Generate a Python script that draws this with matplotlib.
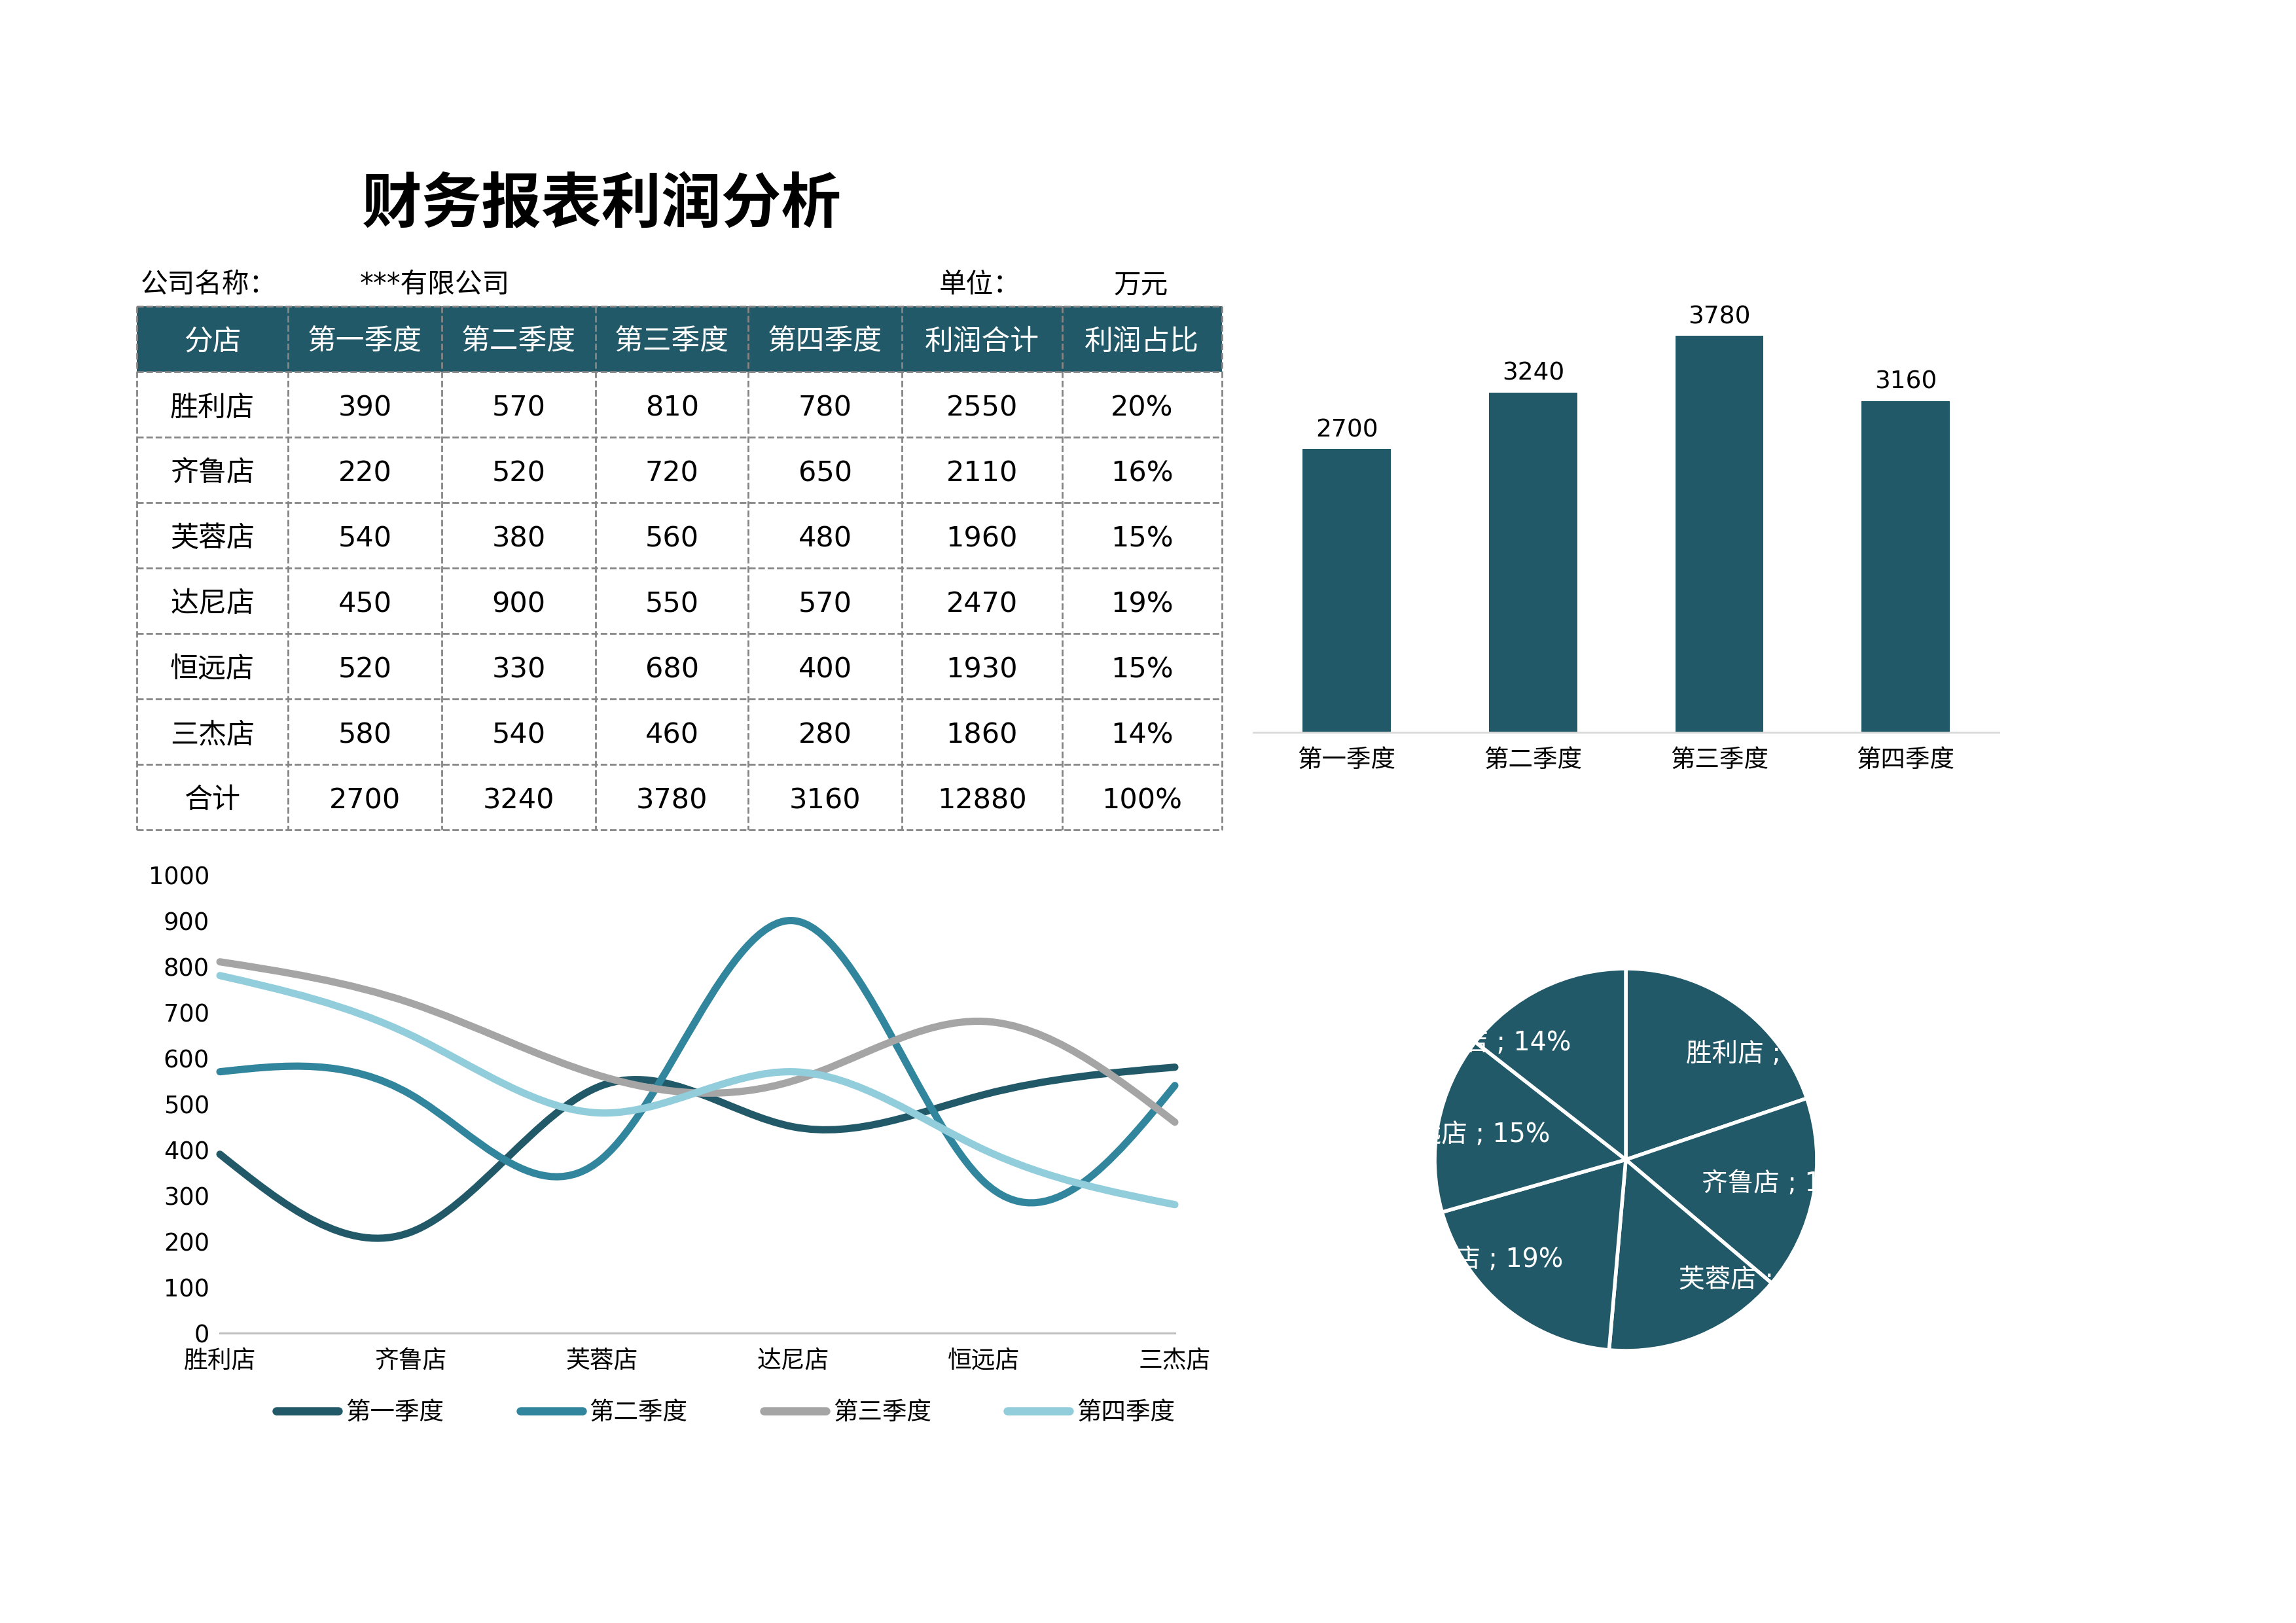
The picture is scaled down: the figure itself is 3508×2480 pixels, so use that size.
import numpy as np
import matplotlib.pyplot as plt
from matplotlib.path import Path
from matplotlib.patches import PathPatch, Rectangle
from matplotlib.lines import Line2D

plt.rcParams['font.family'] = ['DejaVu Sans', 'Noto Sans CJK SC']

stores = ['胜利店', '齐鲁店', '芙蓉店', '达尼店', '恒远店', '三杰店']
quarters = ['第一季度', '第二季度', '第三季度', '第四季度']
q1 = [390, 220, 540, 450, 520, 580]
q2 = [570, 520, 380, 900, 330, 540]
q3 = [810, 720, 560, 550, 680, 460]
q4 = [780, 650, 480, 570, 400, 280]
store_totals = [2550, 2110, 1960, 2470, 1930, 1860]
store_shares = ['20%', '16%', '15%', '19%', '15%', '14%']
quarter_totals = [2700, 3240, 3780, 3160]
grand_total = 12880
grand_share = '100%'
table_header = ['分店'] + quarters + ['利润合计', '利润占比']

teal = '#215968'
line_colors = ['#215968', '#31859C', '#A5A5A5', '#92CDDC']

fig = plt.figure(figsize=(35.08, 24.8), dpi=100)

# title and header info
fig.text(0.262, 0.8735, '财务报表利润分析', fontsize=66, fontweight='bold',
         ha='center', va='center', family=['Noto Sans CJK SC'])
fig.text(0.0613, 0.8246, '公司名称：', fontsize=30, ha='left', va='center')
fig.text(0.1568, 0.8246, '***有限公司', fontsize=30, ha='left', va='center')
fig.text(0.4091, 0.8246, '单位：', fontsize=30, ha='left', va='center')
fig.text(0.4851, 0.8246, '万元', fontsize=30, ha='left', va='center')

# ---- table ----
col_w = [103, 105, 105, 104, 105, 109, 109]
edges = np.concatenate([[0], np.cumsum(col_w)])
rows = [[s, a, b, c, d, t, p] for s, a, b, c, d, t, p in
        zip(stores, q1, q2, q3, q4, store_totals, store_shares)]
rows.append(['合计'] + quarter_totals + [grand_total, grand_share])
n_rows = len(rows) + 1

ax_t = fig.add_axes([0.05966, 0.48859, 0.47246, 0.32258])
ax_t.set_xlim(0, edges[-1])
ax_t.set_ylim(n_rows, 0)
ax_t.axis('off')
ax_t.add_patch(Rectangle((0, 0), edges[-1], 1, color=teal, lw=0))
dash = (0, (3.6, 1.5))
ax_t.hlines(np.arange(n_rows + 1), 0, edges[-1], colors='#858585', lw=2,
            linestyles=dash, clip_on=False)
ax_t.vlines(edges, 0, n_rows, colors='#858585', lw=2, linestyles=dash, clip_on=False)
for j, h in enumerate(table_header):
    ax_t.text((edges[j] + edges[j + 1]) / 2, 0.54, h, color='white', fontsize=31.5,
              ha='center', va='center')
for i, r in enumerate(rows):
    for j, v in enumerate(r):
        ax_t.text((edges[j] + edges[j + 1]) / 2, i + 1.55, str(v), color='black',
                  fontsize=31, ha='center', va='center')

# ---- bar chart ----
ax_b = fig.add_axes([0.54598, 0.54863, 0.32463, 0.27155])
bars = ax_b.bar(range(len(quarters)), quarter_totals, width=0.473, color=teal)
ax_b.bar_label(bars, padding=8, fontsize=27)
ax_b.set_xlim(-0.5, len(quarters) - 0.5)
ax_b.set_ylim(0, 4200)
ax_b.set_xticks(range(len(quarters)))
ax_b.set_xticklabels(quarters, fontsize=27)
ax_b.set_yticks([])
ax_b.tick_params(axis='x', length=0, pad=18)
for s in ['top', 'left', 'right']:
    ax_b.spines[s].set_visible(False)
ax_b.spines['bottom'].set_color('#D9D9D9')
ax_b.spines['bottom'].set_linewidth(2)


# ---- smoothed line chart (natural cubic spline drawn as bezier segments) ----
def spline_path(xs, ys):
    y = np.asarray(ys, dtype=float)
    n = len(y)
    A = np.zeros((n, n))
    rhs = np.zeros(n)
    A[0, 0] = A[-1, -1] = 1
    for i in range(1, n - 1):
        A[i, i - 1:i + 2] = [1, 4, 1]
        rhs[i] = 6 * (y[i + 1] - 2 * y[i] + y[i - 1])
    M = np.linalg.solve(A, rhs)
    verts = [(xs[0], y[0])]
    codes = [Path.MOVETO]
    for i in range(n - 1):
        d = y[i + 1] - y[i]
        s0 = d - (2 * M[i] + M[i + 1]) / 6
        s1 = d + (M[i] + 2 * M[i + 1]) / 6
        verts += [(xs[i] + 1 / 3, y[i] + s0 / 3),
                  (xs[i + 1] - 1 / 3, y[i + 1] - s1 / 3),
                  (xs[i + 1], y[i + 1])]
        codes += [Path.CURVE4] * 3
    return Path(verts, codes)


ax_l = fig.add_axes([0.09578, 0.17875, 0.41591, 0.28226])
xs = np.arange(len(stores))
handles = []
for vals, col in zip([q1, q2, q3, q4], line_colors):
    patch = PathPatch(spline_path(xs, vals), fill=False, edgecolor=col, lw=8,
                      capstyle='round', joinstyle='round', clip_on=False)
    ax_l.add_patch(patch)
    handles.append(Line2D([], [], color=col, lw=9, solid_capstyle='round'))
ax_l.set_xlim(0, len(stores) - 1)
ax_l.set_ylim(0, 1000)
ax_l.set_yticks(np.arange(0, 1001, 100))
ax_l.set_xticks(xs)
ax_l.set_xticklabels(stores)
ax_l.tick_params(axis='both', length=0, labelsize=26.5)
ax_l.tick_params(axis='x', pad=17)
ax_l.tick_params(axis='y', pad=11.5)
for s in ['top', 'left', 'right']:
    ax_l.spines[s].set_visible(False)
ax_l.spines['bottom'].set_color('#BFBFBF')
ax_l.spines['bottom'].set_linewidth(2.2)
fig.legend(handles, quarters, loc='center', bbox_to_anchor=(0.3161, 0.1295), ncol=4,
           frameon=False, fontsize=27, handlelength=2.53, handletextpad=0.3,
           columnspacing=3.1)

# ---- pie chart ----
ax_p = fig.add_axes([0.62486, 0.16774, 0.16648, 0.23548])
wedges, _ = ax_p.pie(store_totals, startangle=90, counterclock=False,
                     colors=[teal] * len(stores),
                     wedgeprops=dict(edgecolor='white', linewidth=4))
ax_p.set_xlim(-1, 1)
ax_p.set_ylim(-1, 1)
for w, name, share in zip(wedges, stores, store_shares):
    mid = np.deg2rad((w.theta1 + w.theta2) / 2)
    side = 1 if np.cos(mid) > 0 else -1
    x = side * (0.2 + 0.2 * abs(np.cos(mid)))
    y = 0.68 * np.sin(mid)
    ax_p.text(x, y, f'{name} ; {share}', color='white', fontsize=28.5,
              ha='left' if side > 0 else 'right', va='center', zorder=5)

fig.savefig('out.png', dpi=100)
